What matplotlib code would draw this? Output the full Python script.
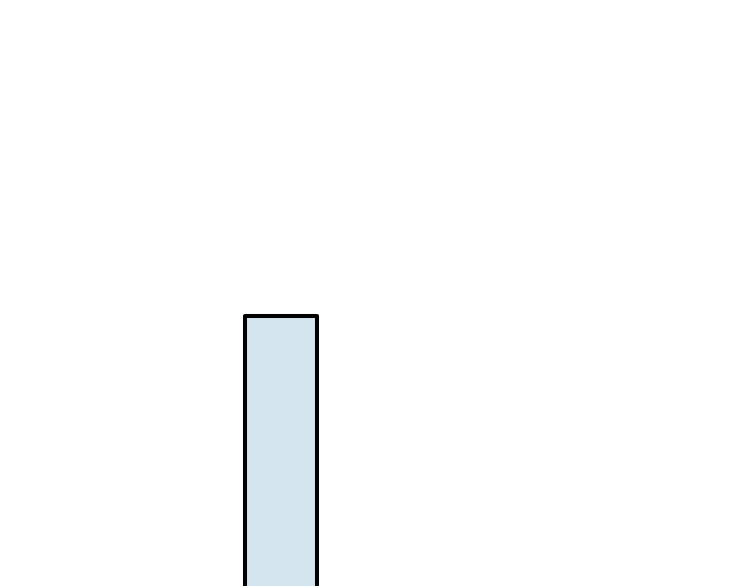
import matplotlib
matplotlib.use('Agg')
import matplotlib.pyplot as plt

categories = ['A']
values = [1.0]

fig = plt.figure(figsize=(7.5, 5.86), dpi=100)
ax = fig.add_axes([0, 0, 1, 1])
bars = ax.bar(categories, values, width=1.0, color='#d5e5ef',
              edgecolor='black', linewidth=2.9)
for b in bars:
    b.set_joinstyle('round')
# only part of the bar is visible in the reference
ax.set_xlim(-3.903, 6.514)
ax.set_ylim(0.6, 1.468)
ax.axis('off')
fig.savefig('out.png', dpi=100)
